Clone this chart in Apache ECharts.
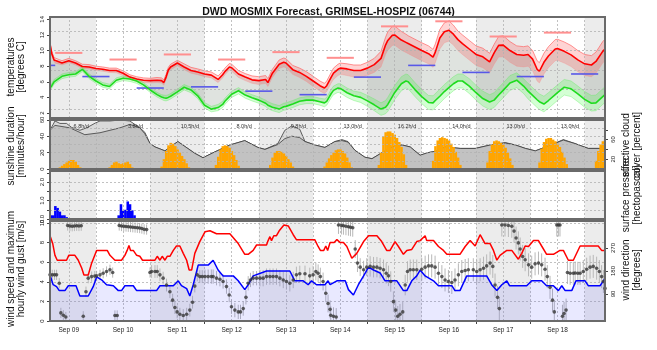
<!DOCTYPE html>
<html><head><meta charset="utf-8">
<script src="https://cdn.jsdelivr.net/npm/echarts@6/dist/echarts.min.js"></script>
<style>html,body{margin:0;padding:0;background:#fff}#c{width:657px;height:350px}</style>
</head><body><div id="c"></div>
<script>
// ---------------- DATA (hours since Sep 09 00:00) ----------------
const dayLabels = ['Sep 09','Sep 10','Sep 11','Sep 12','Sep 13','Sep 14','Sep 15','Sep 16','Sep 17','Sep 18'];
const sunDayTotals = ['6.8h/d','3.8h/d','10.5h/d','8.0h/d','9.8h/d','13.0h/d','16.2h/d','14.0h/d','13.0h/d','13.0h/d'];

const tempHours = [3.7,4.5,5.5,6,9,12,15,18,21,24, 27,30,33,36,39,42,45,48,51,53, 54,55,56,57,60,63,66,69,72,75,
  78,80,81,83,84,87,90,93,96,99, 100,102,105,107,108,111,114,117,120,123, 125,126,128,129,131,132,135,138,141,144,
  147,150,152,153,155,156,159,161,162,165, 168,171,173,174,176,178,180,182,184,186, 189,192,195,198,200,202,204,207,210,213,
  215,217,219,220,222,224,227,228,231,234, 237,240,243,245,248,249];
const temp2m = [10.8,9.6,8.8,8.55,8.4,8.7,8.4,7.95,7.9,7.7, 7.6,7.45,7.45,7.1,6.6,6.35,6.2,6.15,6.2,6.15, 5.9,6.6,7.5,7.9,8.4,7.9,7.45,7.25,7.0,6.85,
  6.3,6.9,7.3,7.9,7.8,7.0,6.6,6.25,6.15,6.3, 5.9,7.1,8.25,8.5,8.4,7.55,7.2,6.7,6.1,5.5, 5.2,5.5,6.6,7.1,7.6,7.75,7.65,7.45,7.45,7.75,
  8.2,9.0,10.7,11.3,11.95,12.0,11.35,11.05,10.9,10.45, 10.0,9.6,9.15,9.8,11.6,12.4,12.6,12.1,11.4,10.9, 10.2,9.5,9.2,8.55,9.7,10.66,10.7,10.0,9.5,9.4,
  9.5,8.9,7.6,7.35,8.5,9.3,10.2,10.25,9.9,9.45, 8.8,8.3,8.15,8.6,9.9,10.2];
const dewPoint = [5.2,5.5,6.0,6.1,6.7,6.9,7.0,7.6,6.7,6.1, 5.6,5.4,6.2,6.45,6.35,6.1,5.6,4.95,4.35,4.05, 3.95,3.9,4.0,4.15,4.7,5.3,4.95,4.2,3.0,2.5,
  2.7,3.1,3.5,4.1,4.4,4.85,4.3,3.95,3.65,3.25, 3.0,2.75,2.5,2.8,2.85,3.15,3.5,3.65,3.65,3.45, 3.3,3.5,4.5,4.9,5.2,5.15,4.6,4.2,4.0,3.55,
  3.05,2.5,2.75,3.1,4.1,4.6,5.75,6.1,6.0,5.0, 4.1,3.35,3.3,3.6,4.15,4.75,5.25,5.75,6.1,6.1, 5.45,4.6,3.85,3.4,3.65,4.3,4.9,5.85,6.2,5.45,
  4.8,4.25,3.7,3.45,3.15,3.6,4.35,4.6,5.3,5.1, 4.45,3.75,3.25,3.3,4.1,4.35];
const tempSpreadUp = [0.3,0.3,0.3,0.3,0.3,0.3,0.3,0.3,0.3,0.3, 0.3,0.3,0.3,0.3,0.3,0.3,0.3,0.3,0.35,0.35, 0.35,0.35,0.35,0.35,0.35,0.4,0.4,0.4,0.4,0.4,
  0.45,0.45,0.45,0.45,0.45,0.45,0.45,0.5,0.5,0.5, 0.5,0.5,0.55,0.55,0.55,0.55,0.55,0.6,0.6,0.6, 0.6,0.6,0.6,0.65,0.65,0.65,0.65,0.7,0.7,0.75,
  0.8,0.9,1.0,1.1,1.15,1.15,1.1,1.05,1.0,1.0, 1.0,1.0,1.0,1.05,1.1,1.15,1.2,1.15,1.1,1.1, 1.1,1.1,1.1,1.1,1.1,1.15,1.2,1.15,1.1,1.1,
  1.1,1.1,1.1,1.1,1.15,1.2,1.2,1.2,1.2,1.2, 1.2,1.2,1.2,1.2,1.25,1.25];
const tempSpreadDn = [0.25,0.25,0.25,0.25,0.25,0.25,0.25,0.25,0.25,0.25, 0.25,0.25,0.3,0.3,0.3,0.3,0.3,0.3,0.3,0.3, 0.35,0.35,0.35,0.35,0.35,0.35,0.35,0.35,0.35,0.35,
  0.4,0.4,0.4,0.4,0.45,0.45,0.45,0.45,0.5,0.5, 0.5,0.55,0.55,0.6,0.6,0.6,0.65,0.65,0.7,0.7, 0.7,0.75,0.75,0.8,0.8,0.8,0.85,0.85,0.9,0.9,
  1.0,1.1,1.2,1.25,1.3,1.3,1.3,1.3,1.3,1.3, 1.3,1.3,1.3,1.35,1.4,1.4,1.4,1.4,1.4,1.4, 1.4,1.4,1.4,1.4,1.45,1.5,1.5,1.5,1.5,1.5,
  1.5,1.5,1.5,1.5,1.5,1.5,1.5,1.5,1.5,1.5, 1.5,1.5,1.5,1.5,1.5,1.5];
const dewSpread = [0.3,0.3,0.3,0.3,0.3,0.3,0.3,0.3,0.3,0.3, 0.3,0.3,0.3,0.3,0.3,0.3,0.3,0.3,0.3,0.3, 0.35,0.35,0.35,0.35,0.35,0.35,0.35,0.35,0.35,0.35,
  0.4,0.4,0.4,0.4,0.4,0.4,0.4,0.4,0.4,0.4, 0.45,0.45,0.45,0.45,0.45,0.45,0.45,0.45,0.45,0.45, 0.5,0.5,0.55,0.55,0.55,0.6,0.6,0.6,0.65,0.7,
  0.75,0.8,0.85,0.9,0.9,0.9,0.9,0.9,0.9,0.9, 0.9,0.9,0.9,0.9,0.9,0.9,0.9,0.9,0.9,0.9, 0.95,0.95,0.95,0.95,0.95,0.95,0.95,0.95,0.95,0.95,
  1.0,1.0,1.0,1.0,1.0,1.0,1.0,1.0,1.0,1.0, 1.0,1.0,1.0,1.0,1.0,1.0];
// daily max (06-18 UTC) and min (18-06 UTC, night ending on day i)
const tempMaxDaily = [9.7,8.85,9.5,8.85,9.8,9.07,13.1,13.75,11.8,12.3];
const tempMinDaily = [8.1,6.67,5.2,5.35,4.8,4.35,6.6,8.1,7.2,6.67,7.0];

const sunshine = [[8,2],[9,4],[10,6],[11,8],[12,10],[13,11],[14,11],[15,9],[16,5],[17,2],
  [30,2],[31,5],[32,8],[33,9],[34,7],[35,6],[36,7],[37,8],[38,9],[39,6],[40,2],
  [53,3],[54,12],[55,22],[56,29],[57,32],[58,31],[59,28],[60,24],[61,20],[62,16],[63,12],[64,7],[65,2],
  [77,5],[78,15],[79,24],[80,28],[81,29],[82,28],[83,26],[84,22],[85,17],[86,11],[87,4],
  [101,5],[102,14],[103,20],[104,22],[105,22],[106,21],[107,19],[108,16],[109,12],[110,8],[111,3],
  [125,3],[126,8],[127,13],[128,17],[129,20],[130,23],[131,24],[132,24],[133,22],[134,19],[135,14],[136,8],[137,2],
  [149,5],[150,20],[151,40],[152,45],[153,46],[154,46],[155,44],[156,42],[157,38],[158,33],[159,27],[160,18],[161,5],
  [173,10],[174,28],[175,35],[176,38],[177,39],[178,38],[179,37],[180,35],[181,31],[182,27],[183,21],[184,14],[185,5],
  [197,8],[198,22],[199,30],[200,34],[201,35],[202,34],[203,32],[204,30],[205,26],[206,20],[207,13],[208,5],
  [220,8],[221,25],[222,33],[223,37],[224,38],[225,38],[226,36],[227,34],[228,31],[229,27],[230,21],[231,14],[232,6],
  [245,10],[246,22],[247,30],[248,34],[249,36]];
const cloudTotal = [[3.7,79],[5.9,98],[8.1,93],[11,93],[13.2,85],[16.9,79],[19.9,84],[23.8,94],[25.8,98],[30.2,98],[34.6,100],[39,98],
  [41.2,91],[43.4,84],[45.6,75],[47.9,52],[50.1,45],[54.5,37],[60.2,56],[67.7,32],[71.3,23],[76.6,35],[83.2,49],[89.8,58],[95.6,44],
  [98.7,40],[104.4,52],[107.5,79],[110.6,88],[114.1,81],[116.4,56],[120.8,49],[125.2,44],[129.6,56],[132.7,60],[135.4,56],[138.5,38],
  [142.9,24],[146,21],[149.6,31],[154.9,45],[159.3,49],[162.9,45],[167.3,28],[170.4,33],[174.8,37],[178.4,45],[185,42],[191.7,42],
  [198.3,49],[204.9,54],[209.4,49],[213.8,42],[218.2,37],[224,47],[230.6,60],[235.7,52],[241.6,42],[246.9,42],[249,52]];
const cloudEffective = [[3.7,79],[5.9,89],[12.5,84],[19.1,70],[25.8,74],[30.2,79],[34.6,84],[39,91],[43.4,84],[45.6,72],[47.9,52],
  [50.1,45],[54.5,37],[60.2,56],[67.7,32],[71.3,23],[76.6,35],[83.2,49],[89.8,58],[95.6,44],[98.7,40],[104.4,50],[107.5,62],[110.6,67],
  [114.1,64],[116.4,56],[120.8,49],[125.2,44],[129.6,56],[132.7,58],[135.4,55],[138.5,38],[142.9,24],[146,21],[149.6,31],[154.9,45],
  [159.3,49],[162.9,45],[167.3,28],[170.4,33],[174.8,37],[178.4,45],[185,42],[191.7,42],[198.3,49],[204.9,53],[209.4,49],[213.8,42],
  [218.2,37],[224,47],[230.6,59],[235.7,52],[241.6,42],[246.9,42],[249,52]];
const precipitation = [[4,0.2],[5,0.2],[6,0.7],[7,0.6],[8,0.4],[9,0.2],[10,0.2],[11,0.1],
  [34,0.2],[35,0.8],[36,0.45],[37,0.5],[38,0.95],[39,0.8],[40,0.47],[41,0.2]];
const windGust = [[3.7,8.7],[4.9,7.9],[5.9,6.7],[6.9,6.2],[11,6.2],[12,6.7],[14.7,6.7],[16.2,6.2],[17.7,5.4],[18.7,4.7],[20.6,4.7],
  [22.1,5.9],[24.3,7.2],[29,7.2],[30.2,6.7],[32.4,6.2],[35.3,6.2],[36.8,6.7],[37.8,7.2],[38.6,7.7],[39.3,7.2],[40.5,7.2],[42,6.7],
  [43.4,6.6],[44.6,6.2],[50.1,6.2],[51.1,6.6],[52.3,6.2],[53.3,6.6],[54.5,6.2],[55.5,6.6],[56.7,6.6],[58.2,7.2],[59.6,7.65],[61.1,7.65],
  [62.6,6.9],[64.1,6.2],[65.2,5.2],[66.3,5.2],[67.7,6.9],[69.9,8.1],[72.2,9.1],[72.9,8.9],[74.4,9.2],[77.3,8.9],[83.2,8.9],[86.9,7.9],
  [89.8,6.8],[91.3,6.8],[93.5,7.2],[95,7.75],[99.4,7.75],[100.1,8.2],[100.9,8.6],[101.6,8.2],[102.6,8.7],[103.8,8.7],[105,9.2],
  [107.1,9.8],[109,9.7],[111.2,8.8],[112.6,8.3],[120.7,8.3],[122.2,7.6],[123.2,7.2],[124.7,7.2],[125.6,7.65],[126.4,7.2],[127.5,8.0],
  [129.3,8.0],[130.5,8.3],[132,8.0],[133.4,8.0],[134.9,7.6],[137.1,6.4],[137.8,6.2],[139.3,6.9],[142.3,8.1],[144.5,8.7],[148.2,8.7],
  [150.3,8.1],[152.5,7.2],[154,7.2],[156.2,8.1],[157.7,7.6],[159.9,6.8],[161.4,7.2],[163.6,7.3],[165.8,8.1],[167.3,8.2],[169.5,8.7],
  [170.2,8.2],[173.2,8.2],[175.4,7.6],[177.6,7.2],[179.1,6.8],[184.9,6.8],[187.2,7.6],[189.4,8.2],[191.6,7.65],[193.8,8.8],[196,7.9],
  [198.2,7.9],[199.7,7.2],[201.2,6.2],[202.6,6.7],[205.6,7.2],[207.8,7.2],[210.7,6.3],[212.2,6.9],[213.7,7.65],[215.2,7.6],[217.4,8.2],
  [219.6,8.2],[221,7.65],[223.2,6.8],[226.2,6.8],[229.1,7.2],[230.6,7.2],[232.8,6.2],[235,6.2],[238,7.65],[246,7.65],[247.5,7.2],[249,7.2]];
const windSpeed = [[3.7,4.7],[5.1,3.7],[6.6,3.5],[7.8,3.1],[10.3,3.1],[11.8,3.6],[15.2,3.6],[16.9,2.55],[20.6,2.55],[22.8,3.5],[24.3,4.5],
  [26.5,4.2],[28.7,3.7],[31.7,3.6],[33.9,3.1],[35.3,3.1],[36.8,3.6],[40.5,3.6],[42,3.1],[50.8,3.1],[52.3,3.6],[58.2,3.6],[60.4,4.1],
  [61.8,3.6],[64.1,3.3],[65.5,2.55],[67,3.7],[69.2,5.7],[73.6,5.7],[75.8,6.2],[78,5.2],[80.2,4.6],[84.7,4.6],[86.9,4.1],[89.8,3.2],
  [91.3,3.7],[93.5,4.6],[99.4,5.1],[109.7,5.1],[111.9,4.1],[115.6,4.1],[117.8,3.7],[119.3,4.1],[121.5,3.7],[125.2,3.7],[126.6,4.1],
  [127.5,3.7],[130.5,4.1],[134.2,4.1],[135.6,3.2],[137.8,2.65],[140,3.7],[142.3,4.6],[144.5,5.5],[146.7,5.2],[149.6,4.9],[151.8,4.1],
  [157,4.1],[159.9,3.1],[161.4,3.1],[163.6,4.1],[165.8,4.6],[167.3,5.2],[169.5,4.6],[173.2,4.1],[175.4,3.6],[181.3,3.6],[182.7,3.1],
  [184.9,3.1],[187.9,4.6],[196.7,4.6],[198.9,3.7],[201.2,3.1],[203.4,3.7],[205.6,4.1],[206.8,3.6],[214.4,3.6],[216.6,4.1],[221,4.1],
  [223.2,3.6],[226.2,3.6],[228.4,3.1],[229.9,3.6],[231.4,3.1],[234.3,3.1],[236.2,4.1],[240.2,4.1],[241.6,3.6],[246.8,3.6],[248.3,4.1],[249,4.35]];
const windDirection = [[3.7,165],[4.7,165],[5.7,165],[6.6,165],[7.8,132],[8.5,16],[9.6,7],[10.7,0],[11.5,358],[12.5,356],[13.5,355],
  [14.5,356],[15.5,357],[16.5,356],[17.5,357],[18.4,3],[19.6,99],[20.6,152],[22.1,158],[23.5,160],[24.3,161],[25.8,165],[27.2,171],
  [28.7,178],[30.2,185],[31.4,174],[32.4,6],[33.4,6],[34.3,358],[35.3,356],[36.3,355],[37.3,354],[38.3,353],[39.3,352],[40.3,351],
  [41.3,350],[42.3,349],[43.3,348],[44.3,346],[45.3,343],[46.4,342],[47.9,174],[48.6,178],[50.1,178],[51.1,178],[52.3,165],[53.7,152],
  [55.2,125],[56.7,99],[57.9,66],[58.9,37],[59.9,20],[61.1,11],[62.6,6],[64.1,11],[65.5,27],[66.7,58],[67.7,121],[68.8,165],[69.9,158],
  [71,158],[72.2,158],[73.6,158],[75,158],[75.8,158],[77.3,152],[78.8,148],[80.2,139],[81.7,119],[82.9,86],[83.9,40],[85.4,27],
  [86.9,20],[87.9,20],[89.1,33],[90.3,77],[91.3,132],[92.3,145],[93.5,152],[95,152],[96.5,152],[97.9,152],[99.4,158],[100.9,158],
  [102.3,158],[103.8,158],[105.3,152],[106.8,145],[108.2,139],[109.7,132],[111.2,145],[112.6,165],[114.1,169],[116.4,169],[118.5,161],
  [120,165],[121.2,178],[122.2,171],[123.2,158],[124.4,139],[125.6,93],[126.6,53],[127.5,30],[127.8,7],[129,3],[130.2,0],[131.2,360],
  [132.5,358],[133.4,357],[134.5,355],[135.6,353],[136.5,351],[137.5,349],[138.6,266],[139.6,211],[140.8,195],[142.3,185],[143.7,195],
  [145.2,198],[146.7,195],[148.2,195],[149.6,191],[151.1,185],[152.3,171],[153.3,161],[154.3,139],[155.5,60],[156.5,27],[157.4,3],
  [158.4,11],[159.6,20],[160.7,125],[161.7,178],[162.9,185],[164.3,185],[165.8,185],[168,187],[169.5,195],[171,200],[172.4,200],
  [173.9,195],[175.4,171],[176.9,158],[178.3,145],[179.8,139],[181.3,135],[182.7,145],[184.2,165],[185.7,178],[187.2,182],[188.6,185],
  [190.8,185],[192.3,178],[193.8,185],[195.3,191],[196.7,200],[198.2,211],[199.4,198],[200.4,125],[201.5,77],[202.3,33],[203.4,360],
  [204.8,360],[206.3,358],[207.8,355],[208.8,336],[209.7,309],[210.7,290],[211.5,266],[212.6,237],[213.7,224],[215.2,204],[216.6,195],
  [218.1,208],[219.6,211],[221,204],[222.5,187],[223.5,158],[224.7,116],[225.8,66],[226.6,20],[227.7,360],[228.4,360],[229.1,360],
  [230.2,3],[230.9,14],[231.8,27],[232.4,174],[233.6,171],[235,171],[235.8,172],[237,171],[238,171],[239.4,178],[240.9,187],[242.4,195],
  [243.8,198],[245.3,191],[246.5,178],[247.5,158],[248.3,139],[249,112]];
const dirSpreadByDay = [20,20,25,28,32,35,40,45,45,45,45];

// tick / grid values
const tempTicks = [2,4,6,8,10,12,14];
const tempGridLines = [2.5,5,7.5,10,12.5];
const sunTicks = [0,20,40,60];
const sunGridLines = [10,20,30,40,50];
const cloudTicks = [20,40,60,80];
const cloudLabels = [20,60];
const precipTicks = [0,0.5,1,1.5,2,2.5];
const precipLabels = [0,1,2];
const precipGridLines = [0.5,1,1.5,2];
const windTicks = [0,2,4,6,8,10];
const dirTicks = [90,180,270];

// ---------------- LAYOUT ----------------
const xMin = 3.7, xMax = 249;
const PL = 50, PR = 605;
const panels = [{t:17,b:118},{t:120,b:169},{t:171,b:219},{t:221,b:321}];
const FONT = 'Liberation Sans';
const dayIdx = h => Math.min(10, Math.max(0, Math.floor(h / 24)));
const midnights = dayLabels.slice(1).map((_, i) => (i + 1) * 24);
const dayLabelHours = dayLabels.map((_, i) => i * 24 + 12);
const vGrid = [];
for (let h = 12; h < xMax; h += 12) vGrid.push(h);
const shadeDays = [0,2,4,6,8,10];

const chart = echarts.init(document.getElementById('c'));

const xAxes = panels.map((p, i) => ({
  type: 'value', gridIndex: i, min: xMin, max: xMax, show: i === 3,
  axisLine: {show: false}, splitLine: {show: false},
  axisTick: {show: true, length: 3, customValues: midnights, lineStyle: {color: '#444'}},
  axisLabel: {customValues: dayLabelHours, fontSize: 6.5, color: '#222', margin: 6, fontFamily: FONT,
    formatter: v => { const k = dayLabelHours.indexOf(v); return k >= 0 ? dayLabels[k] : ''; }}
}));

function yAx(gi, min, max, ticks, labels, fmt, pos) {
  return {
    type: 'value', gridIndex: gi, min, max, position: pos || 'left',
    axisLine: {show: false}, splitLine: {show: false},
    axisTick: {show: true, length: 3, customValues: ticks, lineStyle: {color: '#444'}},
    axisLabel: {customValues: labels, rotate: 90, fontSize: 6, color: '#222', margin: 5, fontFamily: FONT,
      formatter: fmt || (v => String(v))}
  };
}
const yAxes = [
  yAx(0, 1.36, 14.3, tempTicks, tempTicks),
  yAx(1, 0, 60, sunTicks, sunTicks),
  yAx(1, 0, 100, cloudTicks, cloudLabels, null, 'right'),
  yAx(2, 0, 2.6, precipTicks, precipLabels, v => v.toFixed(1)),
  yAx(3, 0, 10.2, windTicks, windTicks, v => v === 10 ? '10' : String(v)),
  yAx(3, -15.6, 375.6, dirTicks, dirTicks, null, 'right')
];

function shadeSeries(gi, yi) {
  return {type: 'line', xAxisIndex: gi, yAxisIndex: yi, data: [], silent: true, z: 0,
    markArea: {silent: true, itemStyle: {color: '#ECECEC'},
      data: shadeDays.map(d => [{xAxis: Math.max(xMin, d * 24)}, {xAxis: Math.min(xMax, d * 24 + 24)}])}};
}
function gridSeries(gi, yi, yVals) {
  return {type: 'line', xAxisIndex: gi, yAxisIndex: yi, data: [], silent: true, z: 3,
    markLine: {silent: true, symbol: ['none', 'none'], label: {show: false},
      lineStyle: {color: '#b2b2b2', type: [2, 2], width: 0.8},
      data: vGrid.map(h => ({xAxis: h})).concat(yVals.map(v => ({yAxis: v})))}};
}
function polySeries(gi, yi, upper, lower, color, z) {
  return {type: 'custom', xAxisIndex: gi, yAxisIndex: yi, silent: true, clip: true, z,
    data: [upper[0]], encode: {x: 0, y: 1},
    renderItem: (params, api) => {
      const pts = upper.map(p => api.coord(p)).concat(lower.slice().reverse().map(p => api.coord(p)));
      return {type: 'polygon', shape: {points: pts}, style: {fill: color}};
    }};
}
function lineSeries(gi, yi, data, color, width, z, extra) {
  return Object.assign({type: 'line', xAxisIndex: gi, yAxisIndex: yi, data, showSymbol: false, symbol: 'none',
    silent: true, z, lineStyle: {color, width}, clip: true}, extra || {});
}
function barSeries(gi, yi, data, color) {
  return {type: 'custom', xAxisIndex: gi, yAxisIndex: yi, data, encode: {x: 0, y: 1}, clip: true, silent: true, z: 4,
    renderItem: (params, api) => {
      const h = api.value(0), v = api.value(1);
      const a = api.coord([h - 0.5, v]), b = api.coord([h + 0.5, 0]);
      return {type: 'rect', shape: {x: a[0], y: a[1], width: b[0] - a[0] + 0.3, height: b[1] - a[1]}, style: {fill: color}};
    }};
}
function dashSeries(data, color, width) {
  return {type: 'custom', xAxisIndex: 0, yAxisIndex: 0, data, encode: {x: [0, 1], y: 2}, clip: true, silent: true, z: 6,
    renderItem: (params, api) => {
      const a = api.coord([api.value(0), api.value(2)]), b = api.coord([api.value(1), api.value(2)]);
      return {type: 'line', shape: {x1: a[0], y1: a[1], x2: b[0], y2: b[1]}, style: {stroke: color, lineWidth: width}};
    }};
}

const tLine = tempHours.map((h, i) => [h, temp2m[i]]);
const tdLine = tempHours.map((h, i) => [h, dewPoint[i]]);
const tUp = tempHours.map((h, i) => [h, temp2m[i] + tempSpreadUp[i]]);
const tDn = tempHours.map((h, i) => [h, temp2m[i] - tempSpreadDn[i]]);
const tdUp = tempHours.map((h, i) => [h, dewPoint[i] + dewSpread[i]]);
const tdDn = tempHours.map((h, i) => [h, dewPoint[i] - dewSpread[i]]);
const txDashes = tempMaxDaily.map((v, d) => [d * 24 + 6, d * 24 + 18, v]);
const tnDashes = tempMinDaily.map((v, d) => [d * 24 - 6, d * 24 + 6, v]);
const dirBars = windDirection.map(([h, v]) => [h, v - dirSpreadByDay[dayIdx(h)], v + dirSpreadByDay[dayIdx(h)]]);
const sunText = sunDayTotals.map((t, d) => [d * 24 + 17.5, 52.5, t]);

const series = [
  // temperature panel
  shadeSeries(0, 0),
  polySeries(0, 0, tLine, tdLine, 'rgba(95,115,95,0.2)', 1),
  polySeries(0, 0, tUp, tDn, 'rgba(255,40,40,0.2)', 1),
  polySeries(0, 0, tdUp, tdDn, 'rgba(40,255,40,0.2)', 1),
  gridSeries(0, 0, tempGridLines),
  lineSeries(0, 0, tUp, 'rgba(255,90,90,0.8)', 0.8, 4),
  lineSeries(0, 0, tDn, 'rgba(255,120,120,0.45)', 0.6, 4),
  lineSeries(0, 0, tdUp, 'rgba(90,235,90,0.6)', 0.6, 4),
  lineSeries(0, 0, tdDn, 'rgba(90,235,90,0.6)', 0.6, 4),
  dashSeries(txDashes, '#FF8F8F', 2),
  dashSeries(tnDashes, '#5858E8', 1.6),
  lineSeries(0, 0, tLine, '#FF0000', 1.6, 7),
  lineSeries(0, 0, tdLine, '#1EDC1E', 1.6, 7),
  // sunshine / cloud panel
  shadeSeries(1, 1),
  lineSeries(1, 2, cloudTotal, '#3a3a3a', 0.8, 1, {areaStyle: {color: '#D9D9D9', opacity: 1}}),
  lineSeries(1, 2, cloudEffective, '#3a3a3a', 0.8, 2, {areaStyle: {color: '#C2C2C2', opacity: 1}}),
  gridSeries(1, 1, sunGridLines),
  barSeries(1, 1, sunshine, '#FFA500'),
  {type: 'custom', xAxisIndex: 1, yAxisIndex: 1, data: sunText, encode: {x: 0, y: 1}, silent: true, z: 8, clip: true,
    renderItem: (params, api) => {
      const p = api.coord([api.value(0), api.value(1)]);
      return {type: 'text', x: p[0], y: p[1], style: {text: sunText[params.dataIndex][2], fill: '#333',
        font: '5.5px ' + FONT, align: 'center', verticalAlign: 'middle'}};
    }},
  // precipitation panel
  shadeSeries(2, 3),
  gridSeries(2, 3, precipGridLines),
  barSeries(2, 3, precipitation, '#0000FF'),
  // wind panel
  shadeSeries(3, 4),
  lineSeries(3, 4, windSpeed, '#0000FF', 1.5, 6, {areaStyle: {color: 'rgba(70,70,255,0.17)', origin: 'start'}}),
  gridSeries(3, 4, windTicks.filter(v => v > 0)),
  {type: 'custom', xAxisIndex: 3, yAxisIndex: 5, data: dirBars, encode: {x: 0, y: [1, 2]}, clip: true, silent: true, z: 4,
    renderItem: (params, api) => {
      const a = api.coord([api.value(0), api.value(1)]), b = api.coord([api.value(0), api.value(2)]);
      return {type: 'line', shape: {x1: a[0], y1: a[1], x2: b[0], y2: b[1]}, style: {stroke: '#B8B8B8', lineWidth: 1}};
    }},
  lineSeries(3, 4, windGust, '#FF0000', 1.5, 6),
  {type: 'scatter', xAxisIndex: 3, yAxisIndex: 5, data: windDirection, symbolSize: 3.6, silent: true, z: 7,
    itemStyle: {color: '#383838'}}
];

const graphics = panels.map(p => ({type: 'rect', z: 100, silent: true,
  shape: {x: PL, y: p.t, width: PR - PL, height: p.b - p.t},
  style: {fill: 'none', stroke: '#6a6a6a', lineWidth: 2}}));
function vtext(x, y, text, lh) {
  return {type: 'text', x, y, rotation: Math.PI / 2, z: 100, silent: true,
    style: {text, font: '10px ' + FONT, fill: '#111', align: 'center', verticalAlign: 'middle', lineHeight: lh}};
}
graphics.push(vtext(16, 67, 'temperatures\n[degrees C]', 10));
graphics.push(vtext(16, 146, 'sunshine duration\n[minutes/hour]', 10));
graphics.push(vtext(16, 269, 'wind speed and maximum\nhourly wind gust [m/s]', 10));
graphics.push(vtext(632, 145, 'effective cloud\ncover [percent]', 11));
graphics.push(vtext(632, 195, 'surface pressure\n[hectopascal]', 11));
graphics.push(vtext(632, 270, 'wind direction\n[degrees]', 11));

chart.setOption({
  animation: false,
  backgroundColor: '#fff',
  title: {text: 'DWD MOSMIX Forecast, GRIMSEL-HOSPIZ (06744)', left: 'center', top: 2,
    textStyle: {fontSize: 10.5, fontWeight: 'bold', fontFamily: FONT, color: '#111'}},
  grid: panels.map(p => ({left: PL, width: PR - PL, top: p.t, height: p.b - p.t, containLabel: false})),
  xAxis: xAxes,
  yAxis: yAxes,
  series,
  graphic: graphics
});
</script></body></html>
